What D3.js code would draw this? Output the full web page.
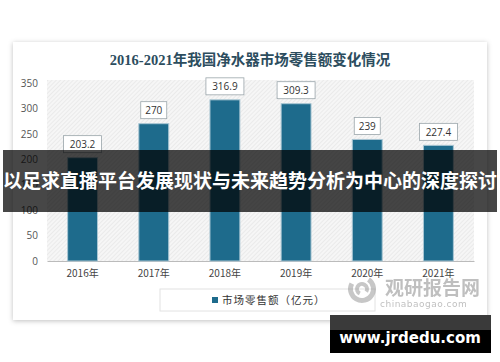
<!DOCTYPE html>
<html>
<head>
<meta charset="utf-8">
<script src="https://cdn.jsdelivr.net/npm/d3@7"></script>
<style>
  body { margin: 0; background: #fff; }
  svg { display: block; }
</style>
</head>
<body>
<div id="chart"></div>
<script>
var width = 500,
    height = 362;

var years = ["2016年", "2017年", "2018年", "2019年", "2020年", "2021年"];
var sales = [203.2, 270, 316.9, 309.3, 239, 227.4];
var yTicks = [0, 50, 100, 150, 200, 250, 300, 350];

var title = "2016-2021年我国净水器市场零售额变化情况";
var legendLabel = "市场零售额（亿元）";
var bannerText = "以足求直播平台发展现状与未来趋势分析为中心的深度探讨";
var siteText = "www.jrdedu.com";

var barColor = "#1e6b8c";
var cjk = "'Noto Sans CJK SC', 'Noto Sans', sans-serif";

var svg = d3.select("#chart").append("svg")
    .attr("width", width)
    .attr("height", height);

var defs = svg.append("defs");

// diagonal hatch for plot background
var pat = defs.append("pattern")
    .attr("id", "hatch")
    .attr("patternUnits", "userSpaceOnUse")
    .attr("width", 3)
    .attr("height", 3)
    .attr("patternTransform", "rotate(45)");
pat.append("rect").attr("width", 3).attr("height", 3).attr("fill", "#f6f6f6");
pat.append("line")
    .attr("x1", 0).attr("y1", 0).attr("x2", 0).attr("y2", 3)
    .attr("stroke", "#dedede").attr("stroke-width", 1);

var shadow = defs.append("filter").attr("id", "shadow")
    .attr("x", "-5%").attr("y", "-5%").attr("width", "110%").attr("height", "115%");
shadow.append("feDropShadow")
    .attr("dx", 0).attr("dy", 1).attr("stdDeviation", 2.5)
    .attr("flood-color", "#000").attr("flood-opacity", 0.25);

// card
svg.append("rect")
    .attr("x", 13).attr("y", 42)
    .attr("width", 474).attr("height", 278)
    .attr("fill", "#fff")
    .attr("filter", "url(#shadow)");

svg.append("text")
    .attr("x", 250).attr("y", 65)
    .attr("text-anchor", "middle")
    .style("font-family", "'Liberation Serif', 'Noto Sans CJK SC', serif")
    .style("font-weight", "bold")
    .style("font-size", "14.5px")
    .style("fill", "#2c4d5e")
    .text(title);

var margin = {left: 47, right: 474, top: 83, bottom: 261};

var x = d3.scaleBand()
    .domain(years)
    .range([margin.left, margin.right])
    .paddingInner(0.58)
    .paddingOuter(0.29);

var y = d3.scaleLinear()
    .domain([0, 350])
    .range([margin.bottom, margin.top]);

svg.append("rect")
    .attr("x", margin.left)
    .attr("y", y(350) - 3)
    .attr("width", margin.right - margin.left)
    .attr("height", margin.bottom - y(350) + 3)
    .attr("fill", "url(#hatch)");

var yAxis = svg.append("g")
    .attr("transform", "translate(" + margin.left + ",0)")
    .call(d3.axisLeft(y).tickValues(yTicks).tickSize(0).tickPadding(9));
yAxis.select(".domain").remove();
yAxis.selectAll("text")
    .style("font-family", "'Open Sans', 'DejaVu Sans', sans-serif")
    .style("font-size", "10px")
    .style("fill", "#555");

var xAxis = svg.append("g")
    .attr("transform", "translate(0," + margin.bottom + ")")
    .call(d3.axisBottom(x).tickSize(0).tickPadding(9));
xAxis.select(".domain").attr("stroke", "#bbb");
xAxis.selectAll("text")
    .style("font-family", cjk)
    .style("font-size", "10px")
    .style("fill", "#444");

var bars = svg.append("g").selectAll("g")
    .data(sales)
    .enter()
    .append("g");

bars.append("rect")
    .attr("x", function(d, i) { return x(years[i]); })
    .attr("y", function(d) { return y(d); })
    .attr("width", x.bandwidth())
    .attr("height", function(d) { return y(0) - y(d); })
    .attr("fill", barColor)
    .attr("stroke", "#a9c6d3")
    .attr("stroke-width", 1);

bars.append("rect")
    .attr("x", function(d, i) { return x(years[i]) + x.bandwidth() / 2 - (String(d).length * 6 + 8) / 2; })
    .attr("y", function(d) { return y(d) - 22; })
    .attr("width", function(d) { return String(d).length * 6 + 8; })
    .attr("height", 17)
    .attr("fill", "#fff")
    .attr("stroke", "#9aa5aa")
    .attr("stroke-width", 0.8);

bars.append("text")
    .attr("x", function(d, i) { return x(years[i]) + x.bandwidth() / 2; })
    .attr("y", function(d) { return y(d) - 9.5; })
    .attr("text-anchor", "middle")
    .style("font-family", "'Open Sans', 'DejaVu Sans', sans-serif")
    .style("font-size", "10px")
    .style("fill", "#333")
    .text(function(d) { return d; });

// legend
svg.append("rect")
    .attr("x", 160).attr("y", 289)
    .attr("width", 215).attr("height", 22)
    .attr("fill", "#fff")
    .attr("stroke", "#e2e2e2");
svg.append("rect")
    .attr("x", 212).attr("y", 297)
    .attr("width", 6).attr("height", 6)
    .attr("fill", barColor);
svg.append("text")
    .attr("x", 222).attr("y", 304)
    .style("font-family", cjk)
    .style("font-size", "10.5px")
    .style("letter-spacing", "1px")
    .style("fill", "#333")
    .text(legendLabel);

// watermark
var wm = svg.append("g").attr("opacity", 0.55);
wm.append("path")
    .attr("d", d3.arc()({innerRadius: 9, outerRadius: 14, startAngle: 0.6, endAngle: 5.2}))
    .attr("transform", "translate(362,289)")
    .attr("fill", "#9a9a9a");
wm.append("path")
    .attr("d", d3.arc()({innerRadius: 3, outerRadius: 7, startAngle: 3.6, endAngle: 8.4}))
    .attr("transform", "translate(362,289)")
    .attr("fill", "#9a9a9a");
wm.append("text")
    .attr("x", 385).attr("y", 295)
    .style("font-family", cjk)
    .style("font-weight", "bold")
    .style("font-size", "19px")
    .style("fill", "#8c8c8c")
    .text("观研报告网");
wm.append("text")
    .attr("x", 380).attr("y", 307)
    .style("font-family", "'DejaVu Sans', sans-serif")
    .style("font-size", "9px")
    .style("letter-spacing", "0.5px")
    .style("fill", "#8c8c8c")
    .text("chinabaogao.com");

// overlay banner
svg.append("rect")
    .attr("x", 3).attr("y", 150)
    .attr("width", 494).attr("height", 62)
    .attr("fill", "#000")
    .attr("opacity", 0.72);
svg.append("text")
    .attr("x", 250).attr("y", 188)
    .attr("text-anchor", "middle")
    .style("font-family", cjk)
    .style("font-weight", "bold")
    .style("font-size", "19px")
    .style("fill", "#fff")
    .text(bannerText);

// site badge
svg.append("rect")
    .attr("x", 330).attr("y", 315)
    .attr("width", 161).attr("height", 15)
    .attr("fill", "#3a3a3a");
svg.append("rect")
    .attr("x", 330).attr("y", 330)
    .attr("width", 161).attr("height", 23)
    .attr("fill", "#000");
svg.append("text")
    .attr("x", 410).attr("y", 343)
    .attr("text-anchor", "middle")
    .style("font-family", "'DejaVu Sans', sans-serif")
    .style("font-weight", "bold")
    .style("font-size", "15px")
    .style("fill", "#fff")
    .text(siteText);
</script>
</body>
</html>
